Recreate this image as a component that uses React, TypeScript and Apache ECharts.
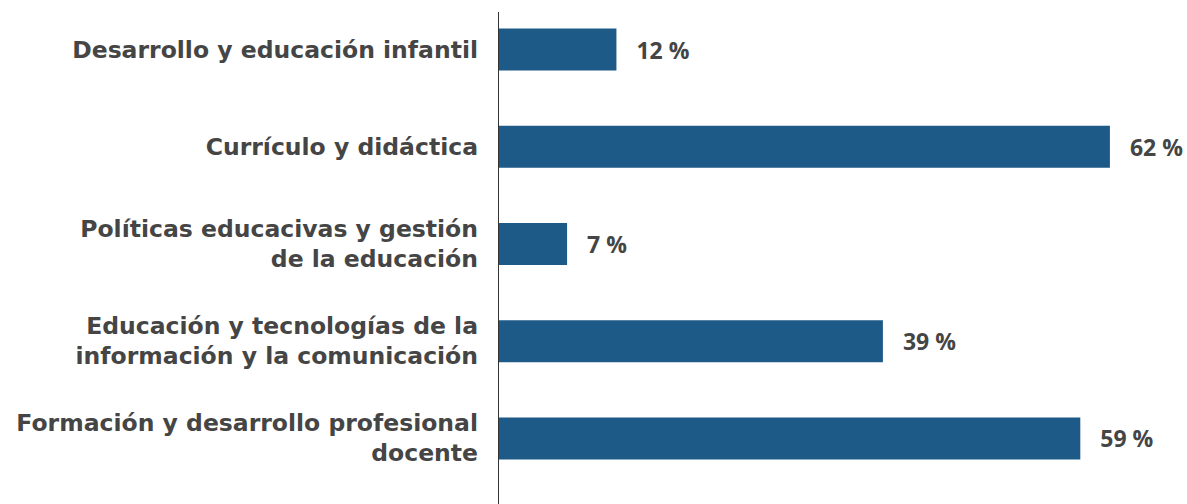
import React, { useEffect, useRef } from "react";
import * as echarts from "echarts";

const categories = [
  "Desarrollo y educación infantil",
  "Currículo y didáctica",
  "Políticas educacivas y gestión\nde la educación",
  "Educación y tecnologías de la\ninformación y la comunicación",
  "Formación y desarrollo profesional\ndocente",
];
const values = [12, 62, 7, 39, 59];

const BAR_COLOR = "#1e5a87";
const TEXT_COLOR = "#454545";

export default function App() {
  const ref = useRef<HTMLDivElement>(null);
  useEffect(() => {
    if (!ref.current) return;
    const chart = echarts.init(ref.current, null, { renderer: "svg" });
    chart.setOption({
      animation: false,
      grid: { left: 498, right: 8, top: 1, height: 486 },
      xAxis: {
        type: "value",
        min: 0,
        max: 69,
        show: false,
      },
      yAxis: {
        type: "category",
        inverse: true,
        data: categories,
        axisLine: { show: false },
        axisTick: { show: false },
        axisLabel: {
          margin: 20,
          color: TEXT_COLOR,
          fontFamily: "DejaVu Sans",
          fontWeight: "bold",
          fontSize: 23.5,
          lineHeight: 30,
          align: "right",
        },
      },
      graphic: [
        {
          type: "line",
          shape: { x1: 498.5, y1: 12, x2: 498.5, y2: 504 },
          style: { stroke: "#333333", lineWidth: 1 },
          z: 10,
        },
      ],
      series: [
        {
          type: "bar",
          data: values,
          barWidth: 42,
          itemStyle: { color: BAR_COLOR },
          label: {
            show: true,
            position: "right",
            distance: 20,
            formatter: "{c} %",
            color: TEXT_COLOR,
            fontFamily: "Open Sans",
            fontWeight: "bold",
            fontSize: 23,
          },
        },
      ],
    });
    return () => chart.dispose();
  }, []);
  return (
    <div
      ref={ref}
      style={{ position: "fixed", left: 0, top: 0, width: 1187, height: 504, background: "#fff" }}
    />
  );
}
